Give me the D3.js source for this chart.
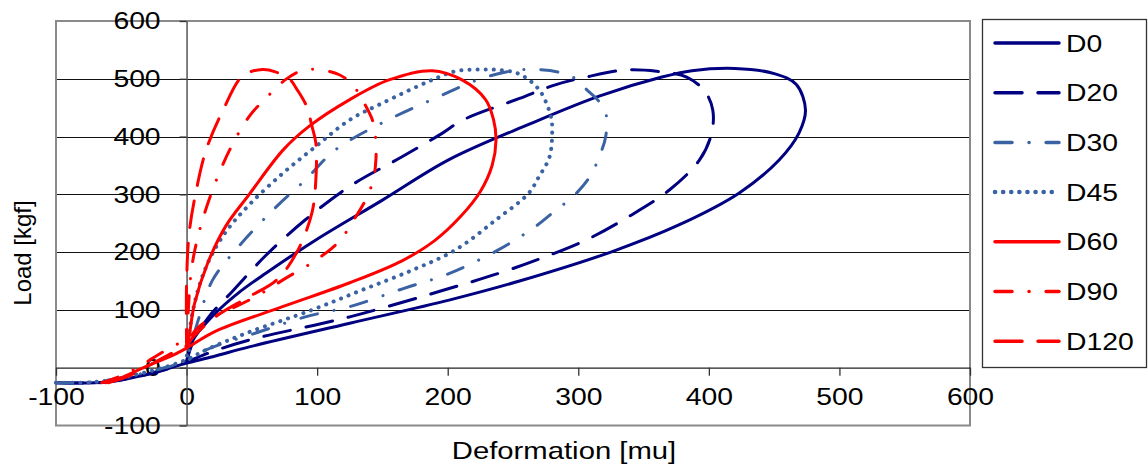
<!DOCTYPE html>
<html>
<head>
<meta charset="utf-8">
<script src="https://cdnjs.cloudflare.com/ajax/libs/d3/7.8.5/d3.min.js"></script>
<style>
  body { margin: 0; background: #fff; }
  text { font-family: "Liberation Sans", Arial, sans-serif; }
</style>
</head>
<body>
<svg id="chart" width="1148" height="466"></svg>
<script>
// Load / deformation loops as [deformation, load]
const D0 = [[-100,-26],[-70,-26],[-52,-22],[-35,-14],[-18,-4],[0,8],[20,19],[48,36],[125,77],[201,117],[255,150],[326,201],[377,247],[423,302],[454,360],[469,406],[474,446],[467,490],[450,509],[420,518],[387,514],[364,503],[316,470],[262,421],[201,360],[150,290],[99,221],[61,164],[40,130],[22,94],[5,48],[0,10]];
const D20 = [[-100,-26],[-68,-26],[-50,-21],[-33,-13],[-16,-3],[0,10],[20,28],[48,48],[125,88],[201,137],[240,164],[270,188],[306,221],[339,262],[370,308],[393,360],[402,405],[403,446],[397,478],[383,503],[360,513],[335,515],[306,503],[283,490],[255,466],[211,428],[196,406],[165,365],[125,314],[91,256],[61,195],[35,132],[17,88],[5,45],[0,10]];
const D30 = [[-100,-26],[-75,-25],[-55,-20],[-38,-12],[-20,-2],[0,12],[15,31],[53,60],[91,88],[127,107],[166,137],[200,162],[238,203],[267,244],[283,273],[296,296],[309,331],[316,365],[321,400],[321,441],[315,463],[307,480],[298,500],[286,511],[267,516],[250,514],[224,499],[194,470],[150,424],[114,377],[91,325],[68,277],[40,210],[20,152],[10,90],[0,12]];
const D45 = [[-100,-26],[-72,-25],[-52,-19],[-35,-10],[-18,0],[0,14],[15,31],[46,60],[96,100],[135,135],[173,169],[206,204],[237,256],[262,302],[270,331],[278,365],[280,412],[279,435],[270,481],[255,508],[240,515],[224,516],[206,513],[188,498],[150,458],[125,429],[99,383],[74,337],[48,282],[30,235],[16,180],[7,120],[2,60],[0,14]];
const D60 = [[-62,-26],[-54,-21],[-30,3],[-12,20],[0,34],[22,63],[74,106],[125,147],[165,185],[190,220],[210,262],[225,305],[234,350],[237,394],[235,430],[229,464],[211,498],[188,514],[155,498],[125,464],[94,418],[74,377],[48,300],[30,245],[16,180],[6,110],[2,55],[0,34]];
const D90 = [[-65,-26],[-50,-14],[-35,4],[-22,22],[-10,38],[0,48],[10,72],[22,90],[38,106],[56,127],[76,155],[99,186],[117,219],[127,252],[137,290],[143,325],[145,360],[145,389],[143,424],[135,462],[127,490],[117,507],[100,516],[88,514],[76,499],[61,467],[48,435],[33,377],[20,308],[10,238],[4,174],[1,88],[0,48]];
const D120 = [[-60,-26],[-44,-14],[-28,5],[-14,22],[0,38],[5,53],[22,88],[48,123],[69,152],[84,198],[96,268],[99,325],[99,389],[96,418],[92,452],[85,480],[79,499],[68,512],[58,516],[43,505],[28,446],[15,377],[7,302],[2,233],[0,146],[0,38]];

const seriesNames = ["D0", "D20", "D30", "D45", "D60", "D90", "D120"];
const seriesData = [D0, D20, D30, D45, D60, D90, D120];
const X_TICKS = [-100, 0, 100, 200, 300, 400, 500, 600];
const Y_TICKS = [-100, 0, 100, 200, 300, 400, 500, 600];
const GRID_LOADS = [100, 200, 300, 400, 500];

// styles per series
const navy = "#000080", steel = "#3b63a3", red = "#ff0000";
const styles = [
  { color: navy,  dash: null,           width: 3 },
  { color: navy,  dash: "27,16",        width: 3 },
  { color: steel, dash: "17,17,0.1,17", width: 3 },
  { color: steel, dash: "0.1,8",        width: 4 },
  { color: red,   dash: null,           width: 3 },
  { color: red,   dash: "17,17,0.1,17", width: 3 },
  { color: red,   dash: "27,16",        width: 3 }
];

const STRETCH = 1.18; // the text in the picture is wider than normal
const svg = d3.select("#chart");

const x = d3.scaleLinear().domain([-100, 600]).range([56, 970]);
const y = d3.scaleLinear().domain([-100, 600]).range([425.5, 21]);

// grid lines
svg.append("g")
  .selectAll("line")
  .data(GRID_LOADS)
  .join("line")
    .attr("x1", x(-100)).attr("x2", x(600))
    .attr("y1", d => Math.round(y(d)) + 0.5).attr("y2", d => Math.round(y(d)) + 0.5)
    .attr("stroke", "#111").attr("stroke-width", 1);

// plot frame
svg.append("rect")
  .attr("x", x(-100)).attr("y", y(600))
  .attr("width", x(600) - x(-100)).attr("height", y(-100) - y(600))
  .attr("fill", "none").attr("stroke", "#8a8a8a").attr("stroke-width", 2);

// axes through the origin, plain hyphen for negatives
const fmt = d => String(d);
const xAxis = svg.append("g")
  .attr("transform", `translate(0,${y(0)})`)
  .call(d3.axisBottom(x).tickValues(X_TICKS).tickFormat(fmt).tickSize(8).tickPadding(12).tickSizeOuter(0));
const yAxis = svg.append("g")
  .attr("transform", `translate(${x(0)},0)`)
  .call(d3.axisLeft(y).tickValues(Y_TICKS).tickFormat(fmt).tickSize(7).tickPadding(15).tickSizeOuter(0));

xAxis.select(".domain").attr("stroke", "#222").attr("stroke-width", 1.2);
yAxis.select(".domain").attr("stroke", "#555").attr("stroke-width", 1.5);
svg.selectAll(".tick line").attr("stroke", "#333").attr("stroke-width", 1.3);
svg.selectAll(".tick text")
  .attr("font-size", 24)
  .attr("font-family", "Liberation Sans, Arial, sans-serif")
  .attr("fill", "#000")
  .attr("transform", `scale(${STRETCH},1)`);

// curves
const line = d3.line()
  .x(d => x(d[0]))
  .y(d => y(d[1]))
  .curve(d3.curveCatmullRom.alpha(0.5));

svg.append("g")
  .selectAll("path")
  .data(seriesData)
  .join("path")
    .attr("d", line)
    .attr("fill", "none")
    .attr("stroke", (d, i) => styles[i].color)
    .attr("stroke-width", (d, i) => styles[i].width)
    .attr("stroke-dasharray", (d, i) => styles[i].dash)
    .attr("stroke-linecap", "round")
    .attr("stroke-linejoin", "round");

// axis titles
svg.append("text")
  .attr("transform", `translate(564,459) scale(1.22,1)`)
  .attr("text-anchor", "middle")
  .attr("font-size", 24)
  .text("Deformation [mu]");

svg.append("text")
  .attr("transform", "translate(31,253) rotate(-90)")
  .attr("text-anchor", "middle")
  .attr("font-size", 24)
  .text("Load [kgf]");

// legend
const legend = svg.append("g");
legend.append("rect")
  .attr("x", 982.5).attr("y", 19.5).attr("width", 164).attr("height", 348)
  .attr("fill", "#fff").attr("stroke", "#333").attr("stroke-width", 1.3);

const rows = legend.selectAll("g.row")
  .data(seriesNames)
  .join("g")
    .attr("class", "row")
    .attr("transform", (d, i) => `translate(0,${43 + i * 49.7})`);

rows.append("line")
  .attr("x1", 995).attr("x2", 1059)
  .attr("stroke", (d, i) => styles[i].color)
  .attr("stroke-width", (d, i) => styles[i].width + 0.5)
  .attr("stroke-dasharray", (d, i) => styles[i].dash)
  .attr("stroke-linecap", "round");

rows.append("text")
  .attr("transform", `translate(1066,8.6) scale(${STRETCH},1)`)
  .attr("font-size", 24)
  .text(d => d);
</script>
</body>
</html>
